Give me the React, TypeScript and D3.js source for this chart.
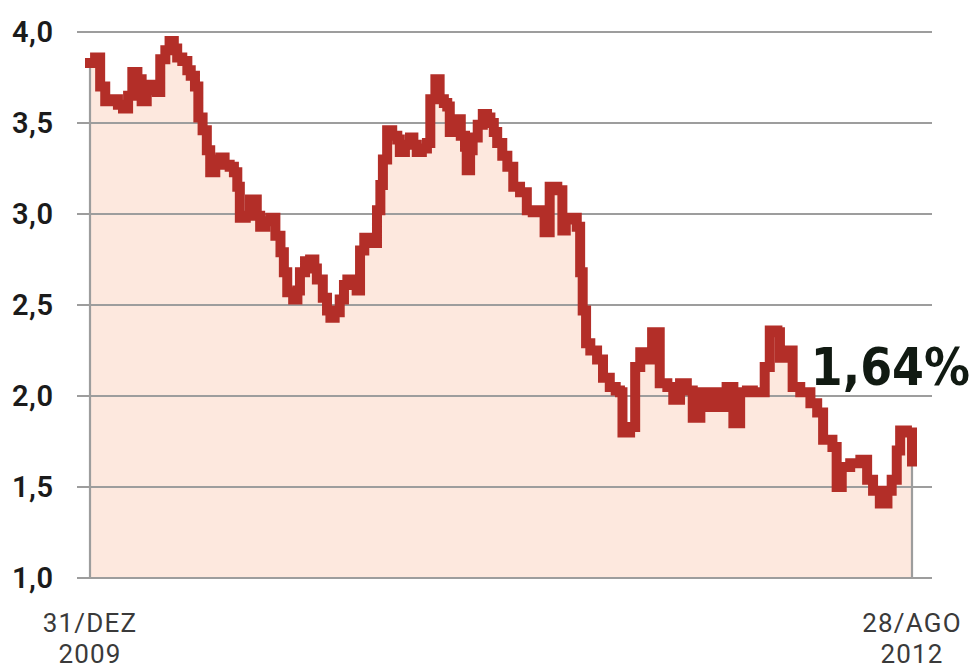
import React from "react";
import * as d3 from "d3";

// Rendimento (%) — dias contados desde 31/12/2009 até 28/08/2012
const dayOffsets: number[] = [
  0, 6, 12, 18, 26, 33, 39, 45, 50, 56, 61, 67, 73, 79, 83, 89, 94, 99, 103, 109,
  115, 119, 124, 128, 133, 138, 142, 148, 154, 159, 165, 170, 174, 177, 184, 189, 193, 197, 201, 207,
  213, 219, 225, 229, 233, 240, 245, 248, 254, 260, 265, 268, 275, 280, 284, 289, 295, 300, 304, 310,
  315, 319, 324, 330, 334, 339, 343, 346, 351, 357, 363, 366, 372, 378, 382, 386, 392, 398, 402, 408,
  413, 418, 422, 425, 430, 434, 438, 443, 445, 449, 452, 458, 464, 469, 473, 477, 481, 487, 493, 500,
  508, 516, 523, 532, 537, 543, 552, 558, 562, 567, 575, 579, 582, 586, 591, 599, 606, 614, 621, 626,
  629, 638, 644, 650, 658, 664, 670, 673, 682, 689, 697, 705, 712, 721, 729, 736, 744, 752, 760, 768,
  776, 783, 791, 797, 803, 812, 815, 823, 830, 839, 851, 859, 866, 877, 882, 888, 898, 910, 918, 925,
  933, 942, 947, 953, 957, 965, 971,
];

const yields: number[] = [
  3.83, 3.86, 3.70, 3.62, 3.63, 3.60, 3.58, 3.65, 3.78, 3.74, 3.62, 3.71, 3.68, 3.67, 3.85, 3.90, 3.95, 3.91, 3.86, 3.84,
  3.79, 3.76, 3.70, 3.53, 3.46, 3.35, 3.23, 3.30, 3.31, 3.27, 3.26, 3.23, 3.15, 2.98, 2.99, 3.08, 3.08, 2.99, 2.93, 2.96,
  2.98, 2.88, 2.79, 2.68, 2.57, 2.53, 2.58, 2.68, 2.74, 2.75, 2.70, 2.64, 2.54, 2.47, 2.43, 2.46, 2.53, 2.61, 2.64, 2.61,
  2.58, 2.80, 2.87, 2.84, 2.84, 3.02, 3.16, 3.30, 3.46, 3.43, 3.41, 3.34, 3.38, 3.42, 3.38, 3.34, 3.36, 3.39, 3.63, 3.74,
  3.63, 3.61, 3.59, 3.45, 3.49, 3.52, 3.43, 3.37, 3.24, 3.35, 3.42, 3.49, 3.55, 3.53, 3.50, 3.45, 3.39, 3.32, 3.26, 3.15,
  3.12, 3.02, 3.01, 3.02, 2.90, 3.15, 3.13, 2.91, 2.97, 2.98, 2.93, 2.68, 2.47, 2.29, 2.25, 2.20, 2.10, 2.05, 2.03, 2.02,
  1.80, 1.83, 2.16, 2.24, 2.20, 2.35, 2.35, 2.07, 2.05, 1.98, 2.07, 2.03, 1.88, 2.02, 1.94, 2.02, 1.94, 2.05, 1.85, 2.02,
  2.03, 2.02, 2.02, 2.16, 2.36, 2.35, 2.21, 2.25, 2.05, 2.02, 1.96, 1.91, 1.76, 1.72, 1.50, 1.61, 1.63, 1.65, 1.54, 1.48,
  1.41, 1.48, 1.54, 1.70, 1.81, 1.80, 1.64,
];

const yTicks: number[] = [1.0, 1.5, 2.0, 2.5, 3.0, 3.5, 4.0];
const startLabel: string[] = ["31/DEZ", "2009"];
const endLabel: string[] = ["28/AGO", "2012"];
const lastValueLabel = "1,64%";

const W = 973;
const H = 671;

export default function App() {
  const data = dayOffsets.map((d, i) => ({ d, v: yields[i] }));

  const x = d3.scaleLinear().domain([0, 971]).range([90, 912]);
  const y = d3.scaleLinear().domain([1, 4]).range([578, 32]);

  const area = d3
    .area<{ d: number; v: number }>()
    .x((p) => x(p.d))
    .y0(y(1))
    .y1((p) => y(p.v))
    .curve(d3.curveStepAfter);

  const line = d3
    .line<{ d: number; v: number }>()
    .x((p) => x(p.d))
    .y((p) => y(p.v))
    .curve(d3.curveStepAfter);

  const fmt = (v: number) => v.toFixed(1).replace(".", ",");
  const first = data[0];
  const last = data[data.length - 1];

  return (
    <svg
      width={W}
      height={H}
      style={{ position: "absolute", left: 0, top: 0, background: "#ffffff" }}
    >
      <path d={area(data) ?? ""} fill="#fde8de" />

      {yTicks.map((t) => (
        <g key={t}>
          <line x1={77} x2={932} y1={y(t)} y2={y(t)} stroke="#9d9d9d" strokeWidth={2.2} />
          <text
            x={12}
            y={y(t)}
            dy="0.36em"
            fontFamily="Roboto, 'DejaVu Sans', sans-serif"
            fontWeight={600}
            fontSize={29}
            letterSpacing={0.5}
            fill="#1b1b1b"
          >
            {fmt(t)}
          </text>
        </g>
      ))}

      <line x1={x(first.d)} x2={x(first.d)} y1={y(first.v)} y2={y(1)} stroke="#9d9d9d" strokeWidth={2.2} />
      <line x1={x(last.d)} x2={x(last.d)} y1={y(last.v)} y2={y(1)} stroke="#9d9d9d" strokeWidth={2.2} />

      <path
        d={line(data) ?? ""}
        fill="none"
        stroke="#b32e28"
        strokeWidth={10}
        strokeLinejoin="miter"
        strokeLinecap="square"
      />

      <text
        x={970}
        y={385}
        textAnchor="end"
        fontFamily="'DejaVu Sans Condensed', 'DejaVu Sans', sans-serif"
        fontWeight="bold"
        fontSize={51}
        fill="#111a12"
      >
        {lastValueLabel}
      </text>

      {[{ lines: startLabel, cx: 90 }, { lines: endLabel, cx: 912 }].map((g, gi) =>
        g.lines.map((l, li) => (
          <text
            key={`${gi}-${li}`}
            x={g.cx}
            y={632 + li * 31}
            textAnchor="middle"
            fontFamily="Roboto, 'DejaVu Sans', sans-serif"
            fontSize={26}
            letterSpacing={1.2}
            fill="#3a3a3a"
          >
            {l}
          </text>
        ))
      )}
    </svg>
  );
}
